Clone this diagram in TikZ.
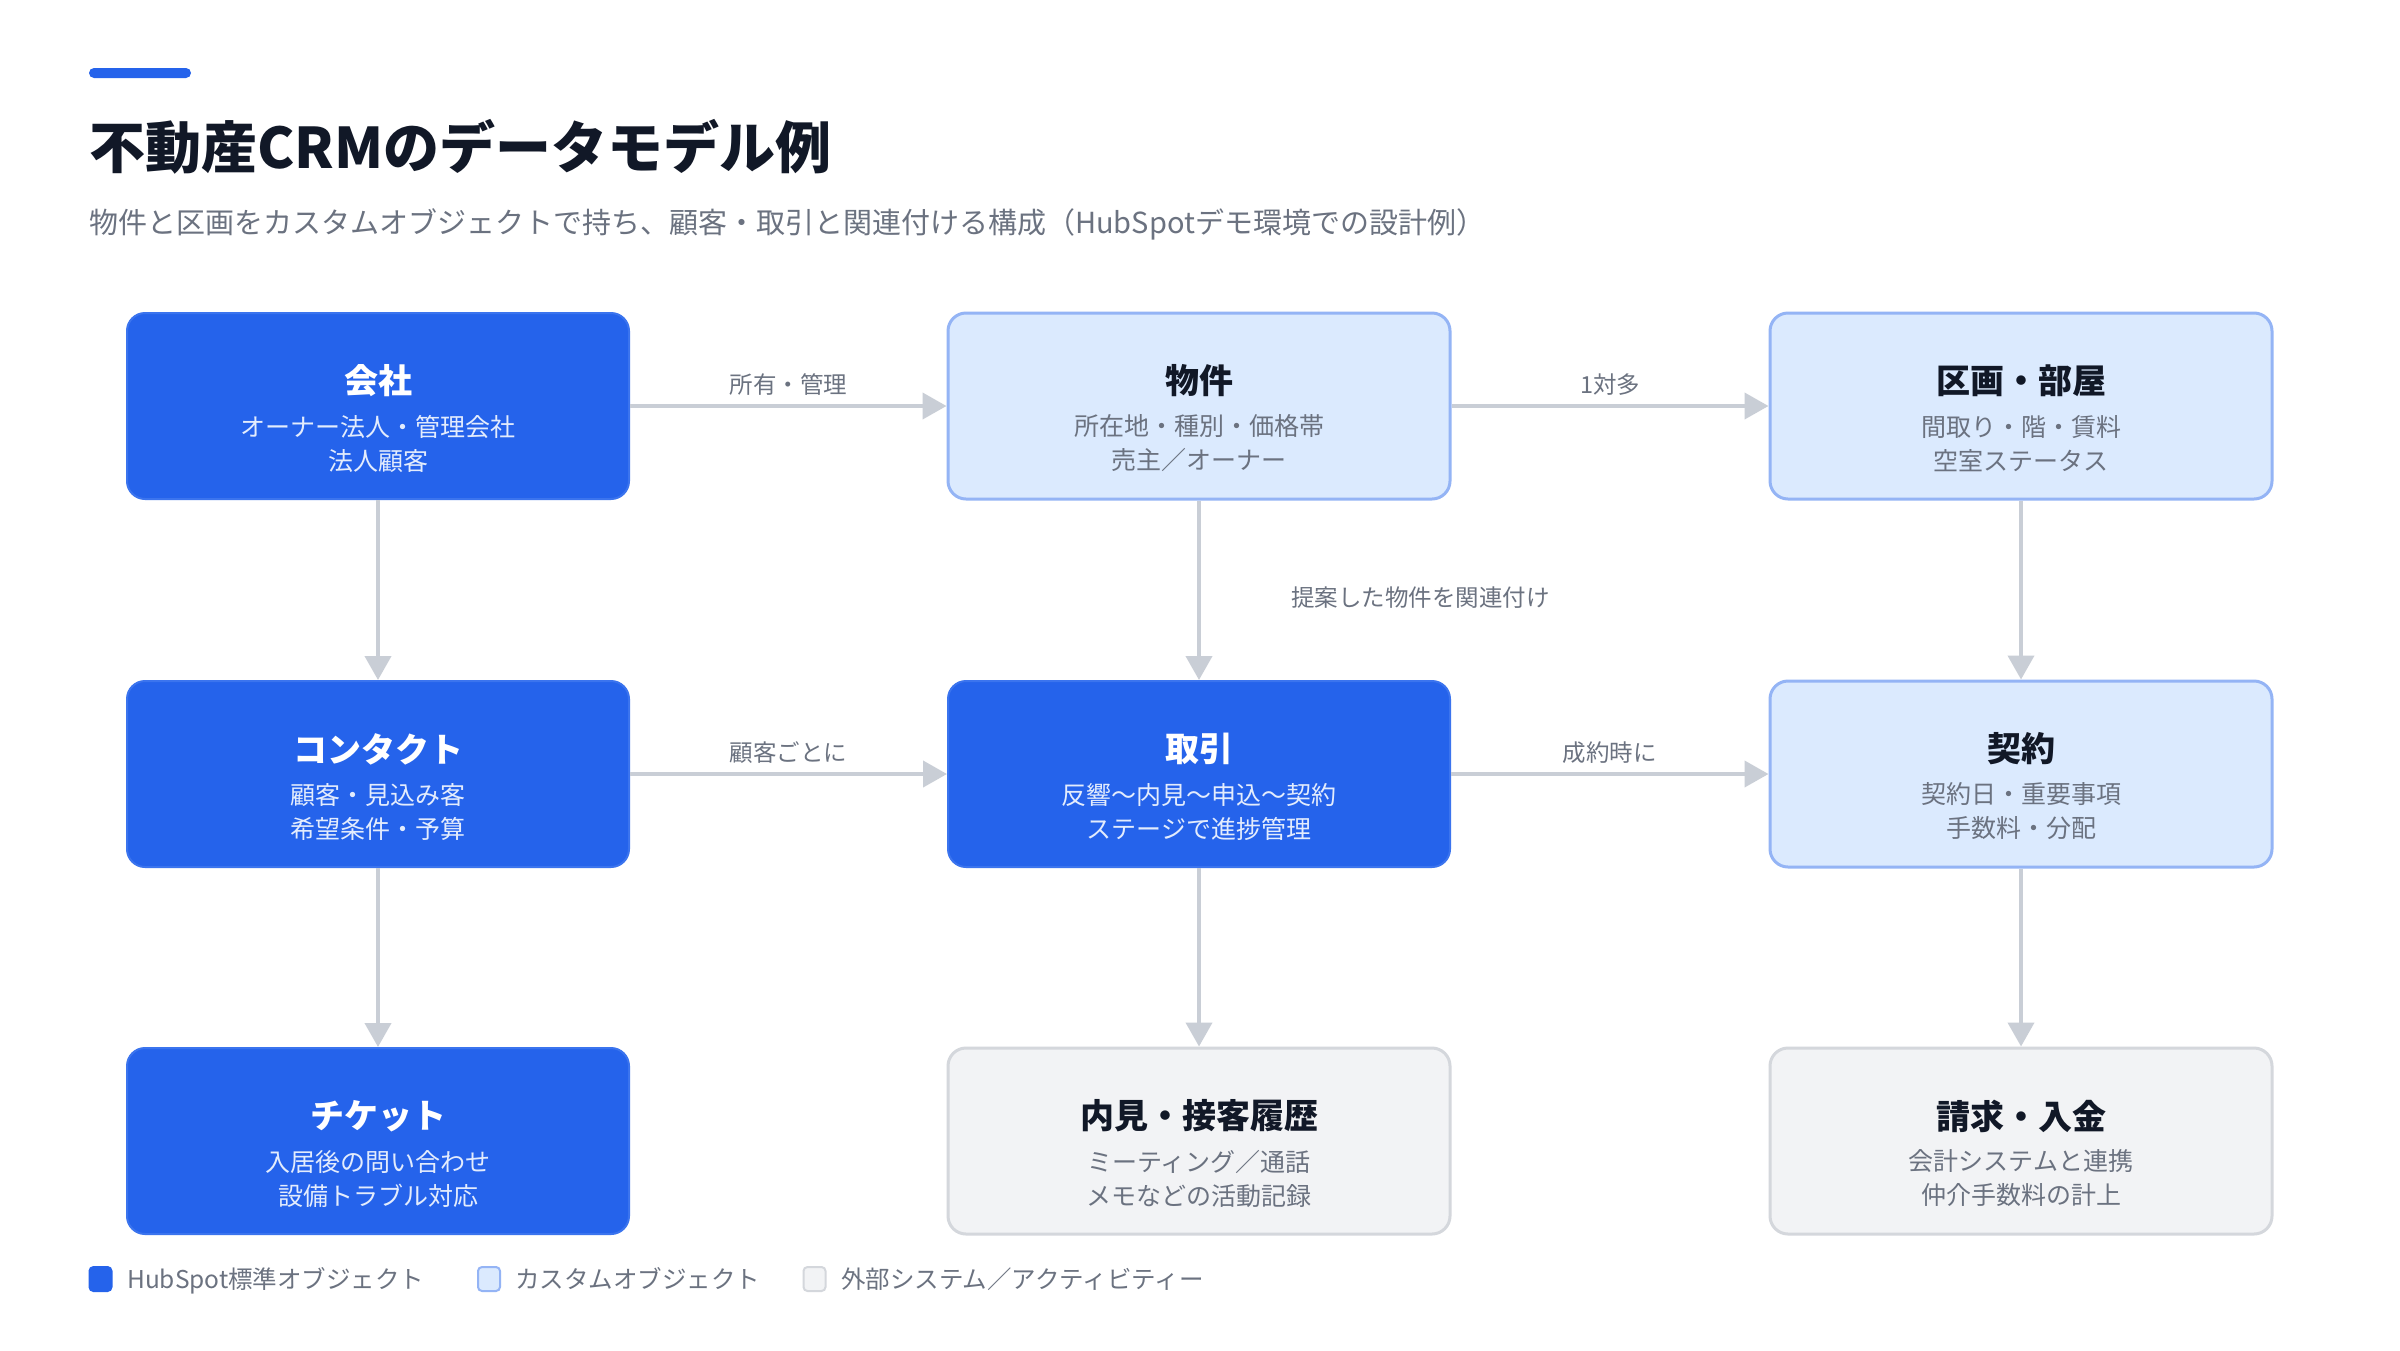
\documentclass[tikz,border=0pt]{standalone}
\usepackage{fontspec}
\setmainfont{Noto Sans CJK JP}
\usetikzlibrary{arrows.meta}
\definecolor{brand}{HTML}{2563EB}
\definecolor{brandedge}{HTML}{3B74EE}
\definecolor{ink}{HTML}{111827}
\definecolor{muted}{HTML}{6B7280}
\definecolor{custfill}{HTML}{DBEAFE}
\definecolor{custedge}{HTML}{94B4F5}
\definecolor{extfill}{HTML}{F2F3F5}
\definecolor{extedge}{HTML}{D4D7DC}
\definecolor{connc}{HTML}{C9CED6}
\definecolor{subw}{HTML}{E3ECFD}
\begin{document}
\begin{tikzpicture}[x=1pt,y=-1pt,
  box/.style={rectangle, rounded corners=18pt, minimum width=502pt, minimum height=186pt, inner sep=0pt},
  stdbox/.style={box, fill=brand, draw=brandedge, line width=2pt},
  custbox/.style={box, fill=custfill, draw=custedge, line width=3pt},
  extbox/.style={box, fill=extfill, draw=extedge, line width=3pt},
  ttl/.style={font=\fontsize{34}{40}\selectfont\bfseries, inner sep=0pt, text=ink},
  sub/.style={font=\fontsize{25}{34}\selectfont, align=center, inner sep=0pt, text=muted},
  wttl/.style={ttl, text=white},
  wsub/.style={sub, text=subw},
  conn/.style={draw=connc, line width=4pt, -{Triangle[length=24pt,width=26pt]}},
  lbl/.style={font=\fontsize{23.5}{28}\selectfont, text=muted, inner sep=0pt},
  hlbl/.style={lbl, midway, yshift=21.5pt},
  legsq/.style={rectangle, rounded corners=4pt, minimum width=22pt, minimum height=24pt, inner sep=0pt, line width=2pt},
  legtxt/.style={anchor=base west, inner sep=0pt, font=\fontsize{24.5}{28}\selectfont, text=muted}
]
\useasboundingbox (0,0) rectangle (2400,1350);
\fill[white] (0,0) rectangle (2400,1350);

% header
\fill[brand, rounded corners=5pt] (89,68) rectangle (191,78);
\node[anchor=base west, inner sep=0pt, font=\fontsize{56}{60}\selectfont\bfseries, text=ink] (title) at (89,168) {不動産CRMのデータモデル例};
\node[anchor=base west, inner sep=0pt, font=\fontsize{29}{32}\selectfont, text=muted] (subtitle) at (89,233) {物件と区画をカスタムオブジェクトで持ち、顧客・取引と関連付ける構成（HubSpotデモ環境での設計例）};

% boxes
\node[stdbox]  (kaisha)   at (378,406)  {};
\node[custbox] (bukken)   at (1199,406) {};
\node[custbox] (kukaku)   at (2021,406) {};
\node[stdbox]  (contact)  at (378,774)  {};
\node[stdbox]  (torihiki) at (1199,774) {};
\node[custbox] (keiyaku)  at (2021,774) {};
\node[stdbox]  (ticket)   at (378,1141) {};
\node[extbox]  (naiken)   at (1199,1141) {};
\node[extbox]  (seikyu)   at (2021,1141) {};

% box texts
\node[wttl] (kaisha-t) at (378,381) {会社};
\node[wsub] (kaisha-s) at (378,443.5) {オーナー法人・管理会社\\法人顧客};
\node[ttl] (bukken-t) at (1199,381) {物件};
\node[sub] (bukken-s) at (1199,443.5) {所在地・種別・価格帯\\売主／オーナー};
\node[ttl] (kukaku-t) at (2021,381) {区画・部屋};
\node[sub] (kukaku-s) at (2021,443.5) {間取り・階・賃料\\空室ステータス};

\node[wttl] (contact-t) at (378,749) {コンタクト};
\node[wsub] (contact-s) at (378,811.5) {顧客・見込み客\\希望条件・予算};
\node[wttl] (torihiki-t) at (1199,749) {取引};
\node[wsub] (torihiki-s) at (1199,811.5) {反響〜内見〜申込〜契約\\ステージで進捗管理};
\node[ttl] (keiyaku-t) at (2021,749) {契約};
\node[sub] (keiyaku-s) at (2021,811.5) {契約日・重要事項\\手数料・分配};

\node[wttl] (ticket-t) at (378,1116) {チケット};
\node[wsub] (ticket-s) at (378,1178.5) {入居後の問い合わせ\\設備トラブル対応};
\node[ttl] (naiken-t) at (1199,1116) {内見・接客履歴};
\node[sub] (naiken-s) at (1199,1178.5) {ミーティング／通話\\メモなどの活動記録};
\node[ttl] (seikyu-t) at (2021,1116) {請求・入金};
\node[sub] (seikyu-s) at (2021,1178.5) {会計システムと連携\\仲介手数料の計上};

% connectors
\draw[conn] (kaisha) -- node[hlbl] (l1) {所有・管理} (bukken);
\draw[conn] (bukken) -- node[hlbl] (l2) {1対多} (kukaku);
\draw[conn] (contact) -- node[hlbl] (l3) {顧客ごとに} (torihiki);
\draw[conn] (torihiki) -- node[hlbl] (l4) {成約時に} (keiyaku);
\draw[conn] (kaisha) -- (contact);
\draw[conn] (contact) -- (ticket);
\draw[conn] (bukken) -- node[lbl, midway, anchor=west, xshift=90pt, yshift=-7pt] (l5) {提案した物件を関連付け} (torihiki);
\draw[conn] (torihiki) -- (naiken);
\draw[conn] (kukaku) -- (keiyaku);
\draw[conn] (keiyaku) -- (seikyu);

% legend
\node[legsq, fill=brand, draw=brand] (leg1) at (100.5,1279) {};
\node[legtxt] (leg1t) at (127,1288) {HubSpot標準オブジェクト};
\node[legsq, fill=custfill, draw=custedge] (leg2) at (489,1279) {};
\node[legtxt] (leg2t) at (515,1288) {カスタムオブジェクト};
\node[legsq, fill=extfill, draw=extedge] (leg3) at (814.5,1279) {};
\node[legtxt] (leg3t) at (841,1288) {外部システム／アクティビティー};
\end{tikzpicture}
\end{document}
